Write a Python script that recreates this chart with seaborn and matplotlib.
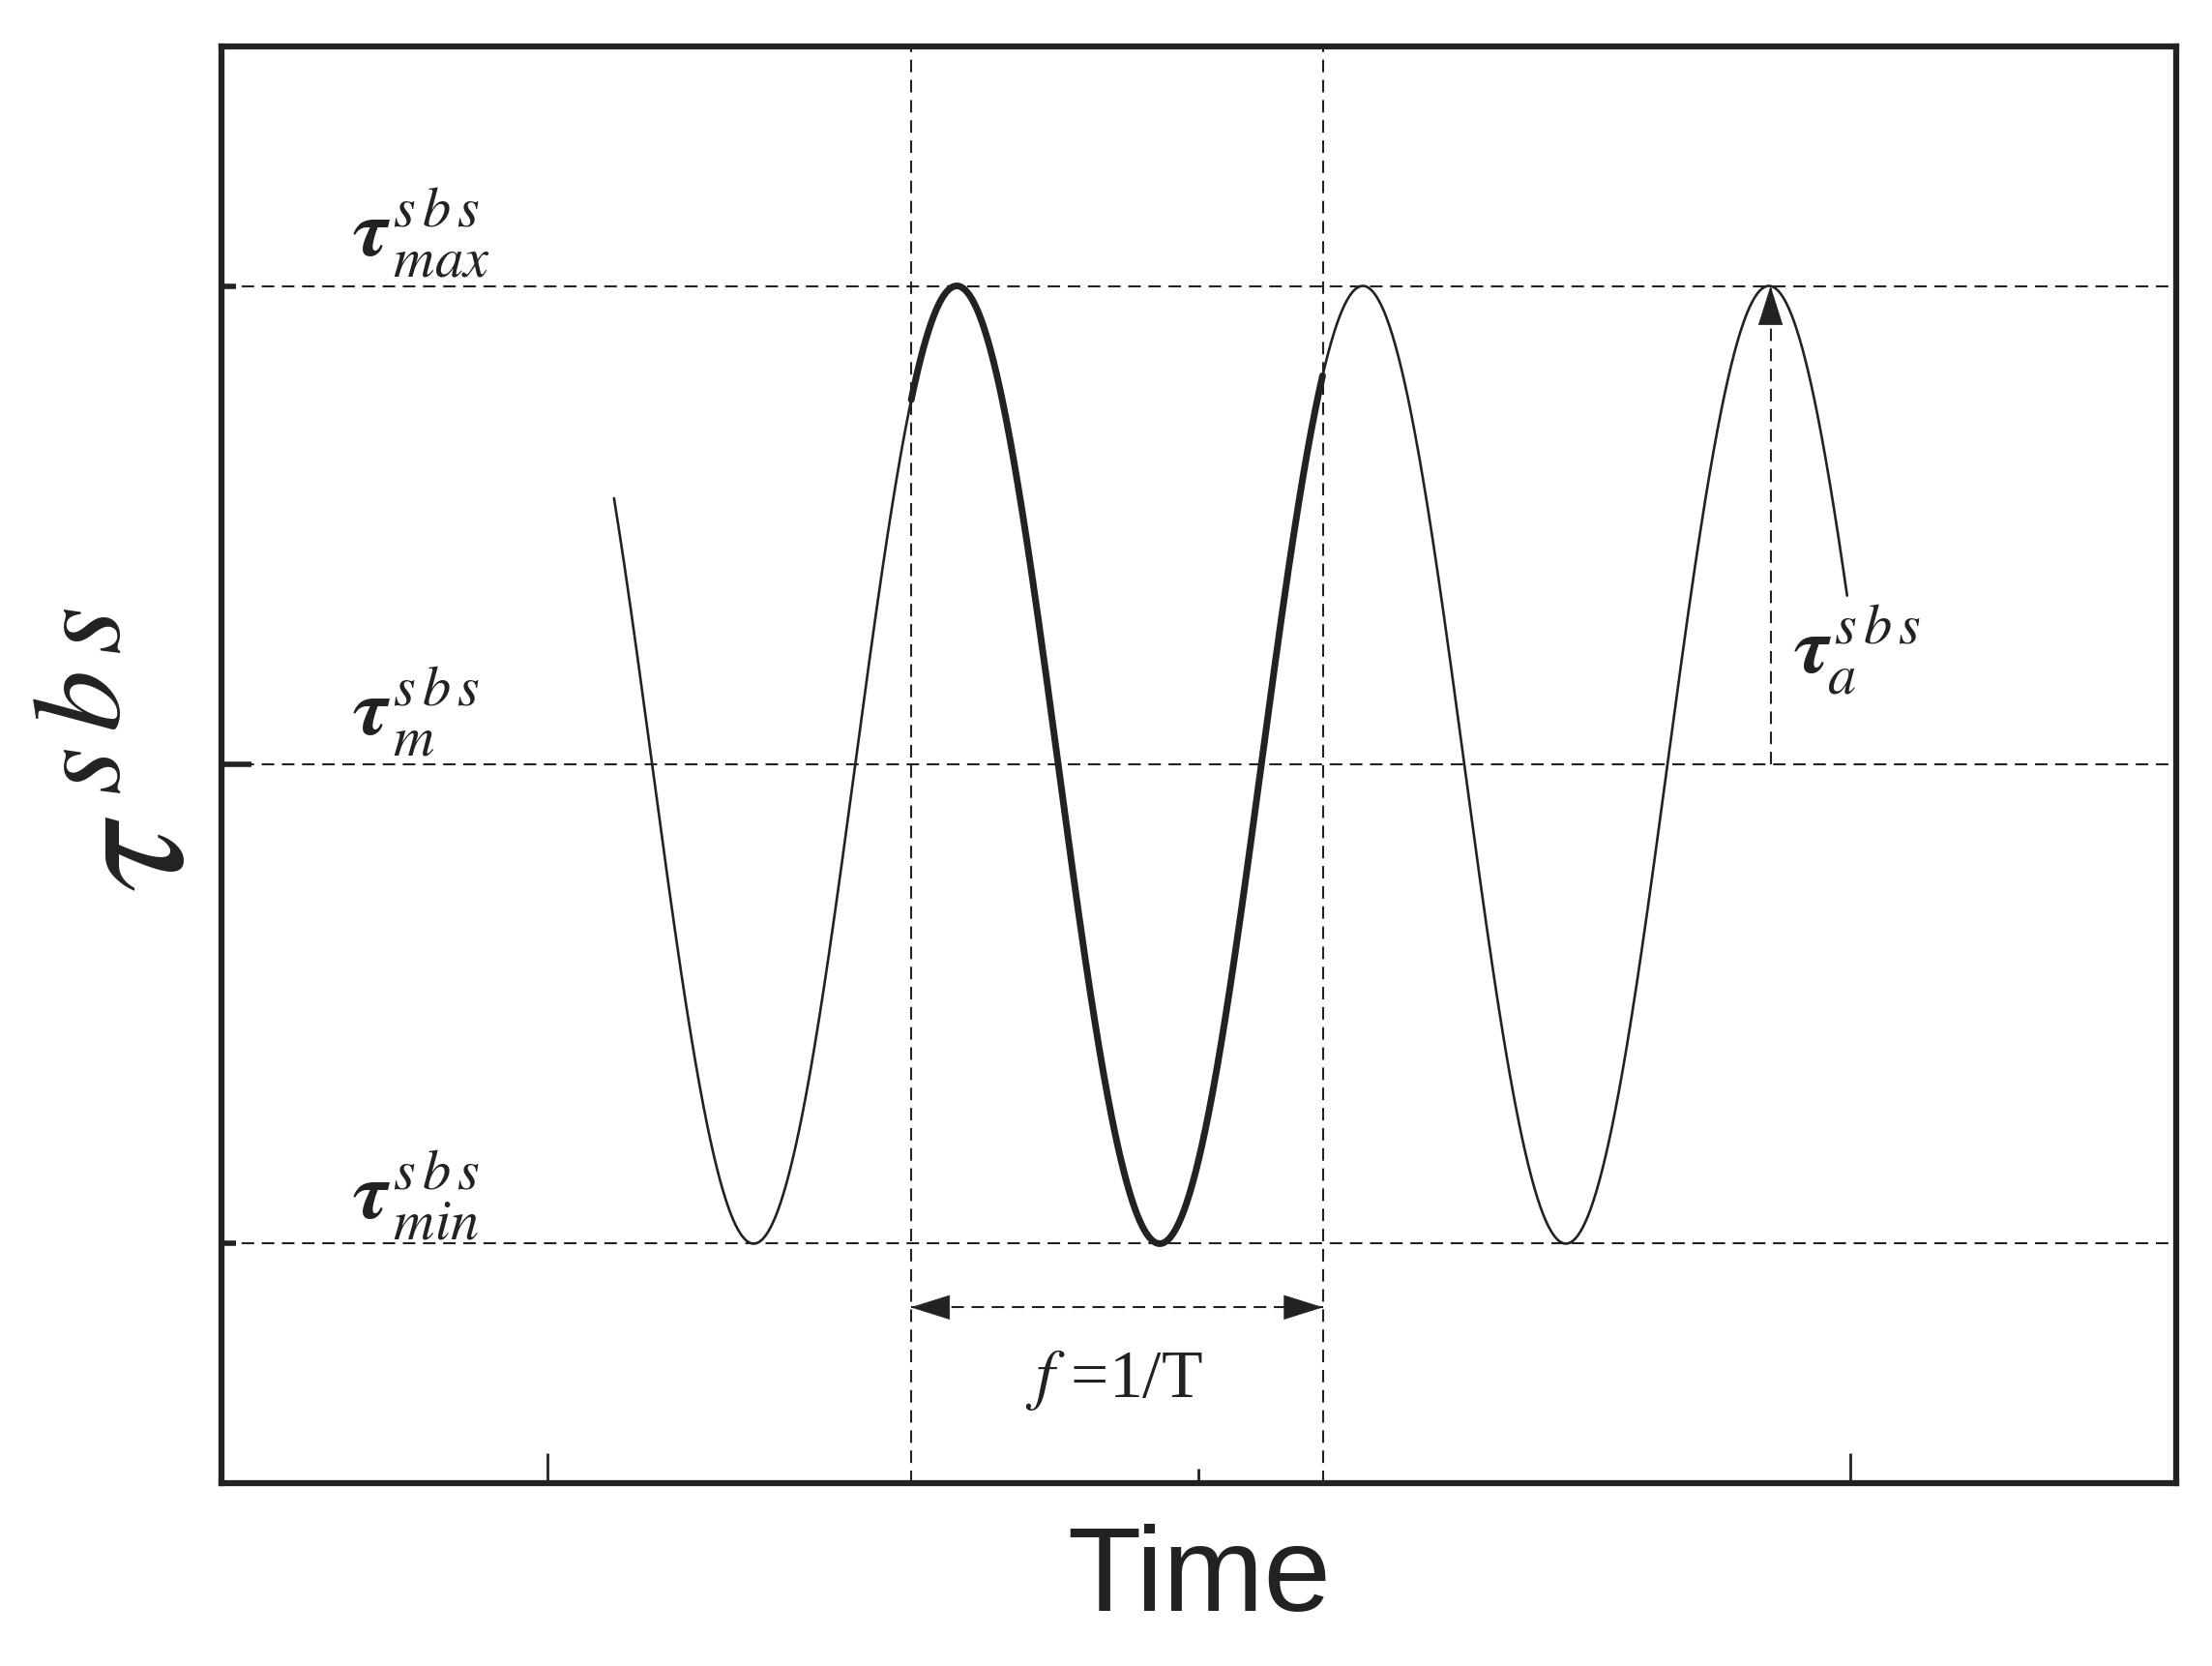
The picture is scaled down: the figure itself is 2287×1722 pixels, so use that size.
import numpy as np
import pandas as pd
import matplotlib
matplotlib.use("Agg")
import matplotlib.pyplot as plt
from matplotlib.ticker import FixedLocator, NullFormatter
import seaborn as sns

# values (time in arbitrary units, stress normalised)
tau_levels = [1.0, 0.0, -1.0]            # tau_max, tau_m, tau_min
tau_names = ["max", "m", "min"]
peak_times = [2.257, 3.503, 4.750]
trough_times = [1.625, 2.870, 4.120]
t_start = 1.205
t_end = 4.99
period_marks = [2.116, 3.381]            # the dashed verticals, one period apart
x_major = [1, 5]
x_minor = [3]
y_major = [0]
y_minor = [-1, 1]

sns.set_theme(style="ticks")
plt.rcParams["font.family"] = ["Liberation Serif", "DejaVu Serif"]
plt.rcParams["mathtext.fontset"] = "stix"

ink = "#222222"

# sinusoid through the read peaks and levels
tau_max, tau_m, tau_min = tau_levels
amp = (tau_max - tau_min) / 2
period = np.mean(np.diff(peak_times))
t = np.linspace(t_start, t_end, 1200)
tau = tau_m + amp * np.cos(2 * np.pi * (t - peak_times[0]) / period)
df = pd.DataFrame({"time": t, "tau": tau})
bold = df[(df.time >= period_marks[0]) & (df.time <= period_marks[1])]

fig = plt.figure(figsize=(22.87, 17.22), dpi=100)
ax = fig.add_axes([0.1001, 0.1098, 0.8837, 0.8623])

sns.lineplot(data=df, x="time", y="tau", ax=ax, color=ink, lw=1.9)
sns.lineplot(data=bold, x="time", y="tau", ax=ax, color=ink, lw=5.0)

dash = dict(color=ink, lw=1.5, dashes=(6.2, 3.8))
for lv in tau_levels:
    ax.axhline(lv, **dash)
for pm in period_marks:
    ax.axvline(pm, **dash)

# period arrow
arr_y = -1.133
ax.plot(period_marks, [arr_y, arr_y], **dash)
head = dict(arrowstyle="-|>,head_length=0.7,head_width=0.22", color=ink,
            lw=0.5, mutation_scale=40, shrinkA=0, shrinkB=0)
span = period_marks[1] - period_marks[0]
ax.annotate("", xy=(period_marks[0], arr_y), xytext=(period_marks[0] + 0.06 * span, arr_y),
            arrowprops=head)
ax.annotate("", xy=(period_marks[1], arr_y), xytext=(period_marks[1] - 0.06 * span, arr_y),
            arrowprops=head)
ax.text(np.mean(period_marks) - 0.01, -1.285, r"$f$ =1/T", fontsize=50, color=ink,
        ha="center", va="center")

# amplitude arrow
pk = peak_times[-1] + 0.005
ax.plot([pk, pk], [tau_m, tau_max], **dash)
ax.annotate("", xy=(pk, tau_max), xytext=(pk, tau_max - 0.06), arrowprops=head)
ax.text(pk + 0.07, 0.24, r"$\mathbfit{\tau}_{a}^{\,s\,b\,s}$", fontsize=60, color=ink,
        ha="left", va="center")

# level labels
label_y = [1.11, 0.11, -0.9]
for name, ly in zip(tau_names, label_y):
    ax.text(0.4, ly, r"$\mathbfit{\tau}_{\,%s}^{\,s\,b\,s}$" % name, fontsize=60,
            color=ink, ha="left", va="center")

ax.set_xlim(0, 6)
ax.set_ylim(-1.5, 1.5)
ax.xaxis.set_major_locator(FixedLocator(x_major))
ax.xaxis.set_minor_locator(FixedLocator(x_minor))
ax.yaxis.set_major_locator(FixedLocator(y_major))
ax.yaxis.set_minor_locator(FixedLocator(y_minor))
ax.xaxis.set_major_formatter(NullFormatter())
ax.yaxis.set_major_formatter(NullFormatter())
ax.tick_params(which="major", direction="in", length=22, width=2, color=ink)
ax.tick_params(which="minor", direction="in", length=11, width=2, color=ink)
ax.tick_params(axis="y", which="both", width=4)

for sp in ax.spines.values():
    sp.set_linewidth(4.5)
    sp.set_color(ink)

ax.set_xlabel("Time", fontsize=90, family=["Liberation Sans", "DejaVu Sans"],
              color=ink, labelpad=27)
ax.set_ylabel(r"$\tau^{\,s\,b\,s}$", fontsize=132, color=ink)
ax.yaxis.set_label_coords(0.0, 0.51)

fig.savefig("out.png", dpi=100, facecolor="white")
